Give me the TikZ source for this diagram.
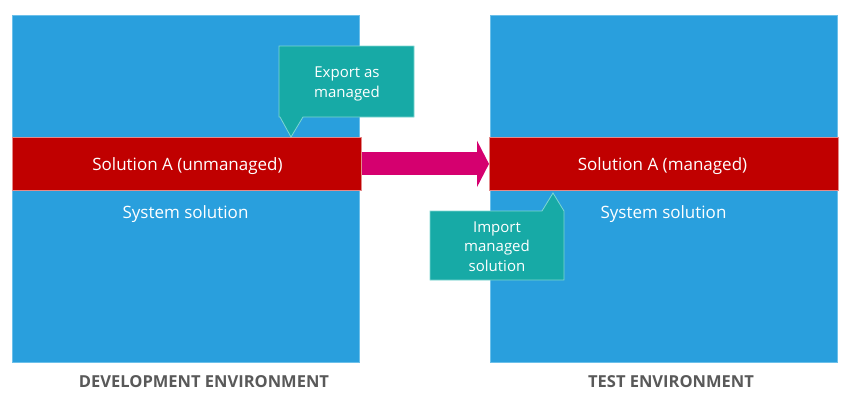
\documentclass[tikz,border=0pt]{standalone}
\usepackage{fontspec}
\setmainfont{Open Sans}
\usetikzlibrary{arrows.meta}
\definecolor{envblue}{HTML}{299FDD}
\definecolor{envblueedge}{HTML}{6CC0EA}
\definecolor{solred}{HTML}{C00000}
\definecolor{solrededge}{HTML}{E48A8A}
\definecolor{arrowpink}{HTML}{D5006F}
\definecolor{calloutteal}{HTML}{17AAA6}
\definecolor{callouttealedge}{HTML}{7DD6D2}
\definecolor{labelgray}{HTML}{595959}
\tikzset{
  envbox/.style={fill=envblue, draw=envblueedge, line width=0.8pt, inner sep=0pt, anchor=north west},
  solbar/.style={fill=solred, draw=solrededge, line width=0.8pt, inner sep=0pt, anchor=north west},
  bartext/.style={text=white, font=\fontsize{17}{20}\selectfont, inner sep=0pt},
  callout/.style={fill=calloutteal, draw=callouttealedge, line width=0.8pt},
  callouttext/.style={text=white, font=\fontsize{15}{19.5}\selectfont, align=center, inner sep=0pt},
  envlabel/.style={text=labelgray, font=\fontsize{16.5}{19}\selectfont\bfseries, inner sep=0pt},
  movearrow/.style={draw=arrowpink, line width=23pt, -{Triangle[length=12pt 0 0, width=46pt 0]}}
}
\begin{document}
\begin{tikzpicture}[x=1pt,y=-1pt]
\useasboundingbox (0,0) rectangle (855,402);
% environments
\node[envbox, minimum width=347pt, minimum height=347pt] (devenv) at (12,15) {};
\node[envbox, minimum width=347pt, minimum height=347pt] (testenv) at (490,15) {};
% solution bars
\node[solbar, minimum width=349pt, minimum height=53pt] (solA) at (12,137) {};
\node[solbar, minimum width=349pt, minimum height=53pt] (solB) at (489,137) {};
\node[bartext] (solAtext) at (187.5,166) {Solution A (unmanaged)};
\node[bartext] (solBtext) at (662.5,166) {Solution A (managed)};
\node[bartext] (sysA) at (185.5,214) {System solution};
\node[bartext] (sysB) at (663.5,214) {System solution};
% arrow
\draw[movearrow] (solA.east) -- (solB.west);
% export callout
\filldraw[callout] (279,46) -- (414,46) -- (414,117) -- (303,117) -- (291,137) -- (280,117) -- (279,117) -- cycle;
\node[callouttext] (export) at (347,84) {Export as\\managed};
% import callout
\filldraw[callout] (430,211) -- (542,211) -- (553,193) -- (564,211) -- (564,280) -- (430,280) -- cycle;
\node[callouttext] (import) at (497,246.5) {Import\\managed\\solution};
% labels
\node[envlabel] (devlabel) at (204,382) {DEVELOPMENT ENVIRONMENT};
\node[envlabel] (testlabel) at (671,382) {TEST ENVIRONMENT};
\end{tikzpicture}
\end{document}
